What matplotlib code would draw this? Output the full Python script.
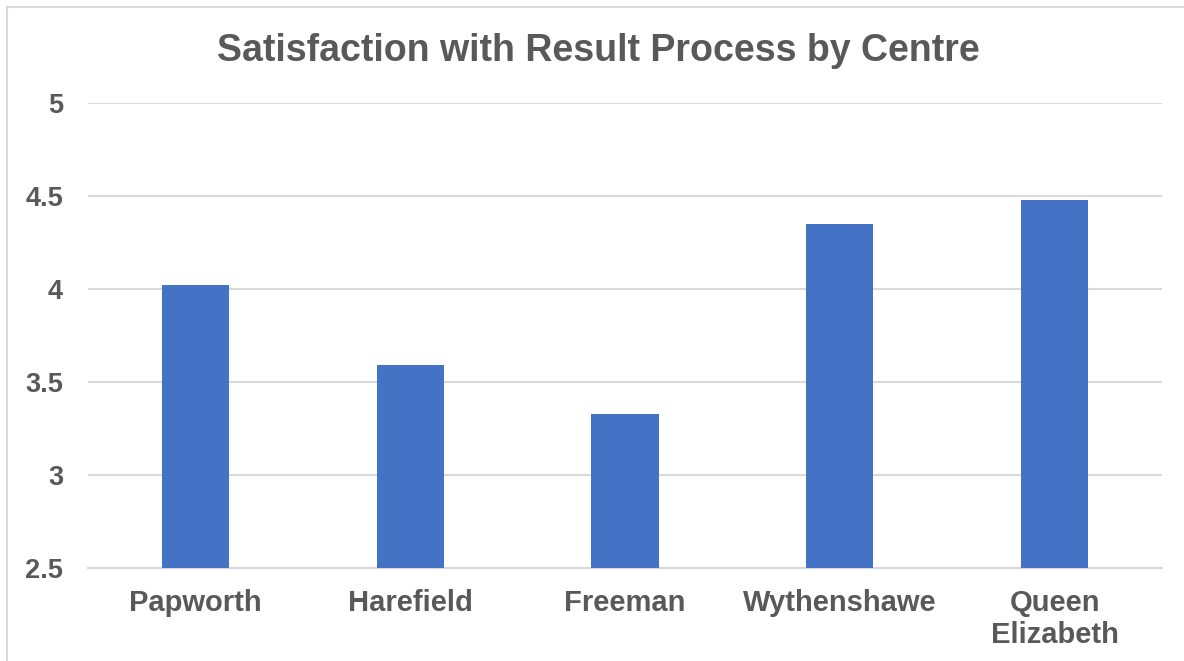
import matplotlib
matplotlib.use("Agg")
import matplotlib.pyplot as plt
from matplotlib.lines import Line2D

categories = ["Papworth", "Harefield", "Freeman", "Wythenshawe", "Queen\nElizabeth"]
values = [4.02, 3.59, 3.33, 4.35, 4.48]
yticks = [2.5, 3, 3.5, 4, 4.5, 5]
ytick_labels = ["2.5", "3", "3.5", "4", "4.5", "5"]
title = "Satisfaction with Result Process by Centre"

plt.rcParams['font.family'] = ['Liberation Sans', 'DejaVu Sans']
text_color = "#595959"
bar_color = "#4472C4"
grid_color = "#D9D9D9"

fig = plt.figure(figsize=(11.84, 6.61), dpi=100)
ax = fig.add_axes([88/1184, 1-568/661, (1162-88)/1184, (568-103)/661])

x = list(range(len(categories)))
ax.bar(x, values, width=0.312, color=bar_color, zorder=3)

ax.set_xlim(-0.5, len(categories)-0.5)
ax.set_ylim(2.5, 5)
ax.set_yticks(yticks)
ax.set_yticklabels(ytick_labels)
ax.set_xticks(x)
ax.set_xticklabels(categories, linespacing=1.2)

ax.yaxis.grid(True, color=grid_color, linewidth=1.5, zorder=0)
ax.set_axisbelow(True)
for s in ["top", "right", "left"]:
    ax.spines[s].set_visible(False)
ax.spines["bottom"].set_color(grid_color)
ax.spines["bottom"].set_linewidth(1.5)

ax.tick_params(axis='y', length=0, pad=18, labelsize=19.5, labelcolor=text_color)
ax.tick_params(axis='x', length=0, pad=15, labelsize=21, labelcolor=text_color)
for lbl in ax.get_xticklabels() + ax.get_yticklabels():
    lbl.set_fontweight('bold')

fig.text(0.505, 1-51/661, title, ha='center', va='center', fontsize=27,
         fontweight='bold', color=text_color)

# chart-area border (left and top edges visible)
fig.add_artist(Line2D([7/1184, 7/1184], [0, 1-7/661], transform=fig.transFigure,
                      color=grid_color, linewidth=1.5))
fig.add_artist(Line2D([7/1184, 1], [1-7/661, 1-7/661], transform=fig.transFigure,
                      color=grid_color, linewidth=1.5))

fig.savefig("out.png", dpi=100)
